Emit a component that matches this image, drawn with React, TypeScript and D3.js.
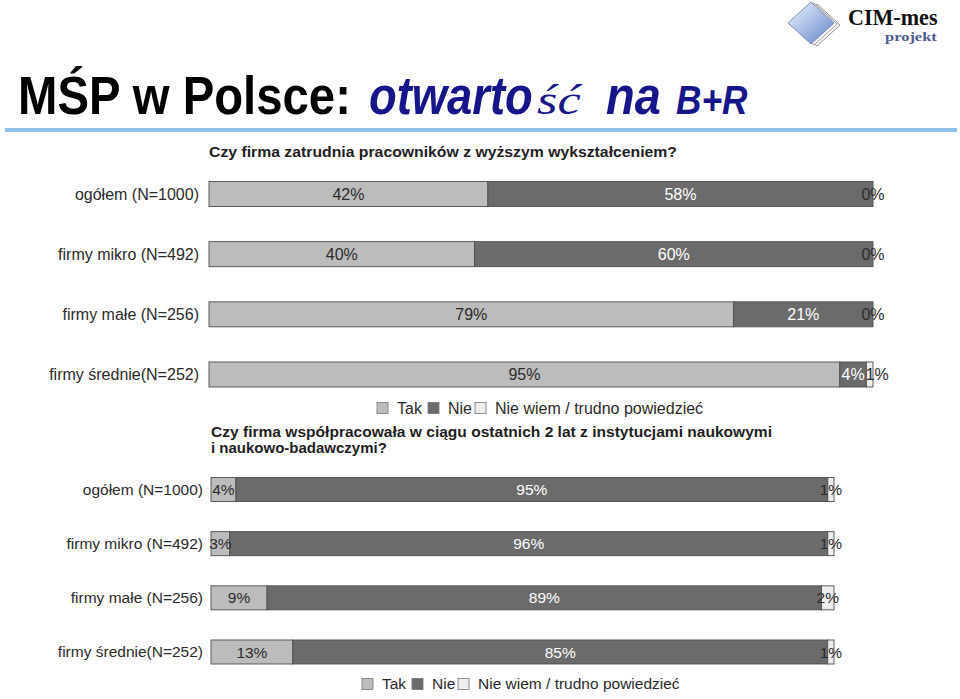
import React from "react";
import * as d3 from "d3";

const categories = [
  "ogółem (N=1000)",
  "firmy mikro (N=492)",
  "firmy małe (N=256)",
  "firmy średnie(N=252)",
];
const seriesNames = ["Tak", "Nie", "Nie wiem / trudno powiedzieć"];

const q1Title = "Czy firma zatrudnia pracowników z wyższym wykształceniem?";
const q1Tak = [42, 40, 79, 95];
const q1Nie = [58, 60, 21, 4];
const q1NieWiem = [0, 0, 0, 1];

const q2TitleLines = [
  "Czy firma współpracowała w ciągu ostatnich 2 lat z instytucjami naukowymi",
  "i naukowo-badawczymi?",
];
const q2Tak = [4, 3, 9, 13];
const q2Nie = [95, 96, 89, 85];
const q2NieWiem = [1, 1, 2, 1];

const FILLS = ["#bcbcbc", "#6b6b6b", "#ededed"];
const LABEL_FILLS = ["#2b2b2b", "#ffffff", "#2b2b2b"];
const SANS = "'Liberation Sans', Arial, Helvetica, sans-serif";
const SERIF = "'Liberation Serif', 'Times New Roman', serif";
const KEYS = ["k0", "k1", "k2"];
const NAVY = "#16168a";

type ChartProps = {
  tak: number[];
  nie: number[];
  nw: number[];
  x0: number;
  x1: number;
  yFirst: number;
  yLast: number;
  barH: number;
  labelRight: number;
  fontSize: number;
  legendX: number[];
  legendY: number;
};

function labelWidth(v: number, fs: number) {
  return fs * (0.556 * String(v).length + 0.889);
}

function StackedChart(p: ChartProps) {
  const rows = categories.map((c, i) => {
    const raw = [p.tak[i], p.nie[i], p.nw[i]];
    const sum = raw[0] + raw[1] + raw[2];
    return { cat: c, raw, k0: (raw[0] / sum) * 100, k1: (raw[1] / sum) * 100, k2: (raw[2] / sum) * 100 };
  });
  const series = d3.stack<any>().keys(KEYS)(rows as any);
  const x = d3.scaleLinear().domain([0, 100]).range([p.x0, p.x1]);
  const y = d3.scalePoint<string>().domain(categories).range([p.yFirst, p.yLast]);

  const labels: { x: number; y: number; t: string; si: number }[] = [];
  rows.forEach((r, ri) => {
    let prevRight = -Infinity;
    series.forEach((s, si) => {
      const d: any = s[ri];
      const w = labelWidth(r.raw[si], p.fontSize);
      let cx = (x(d[0]) + x(d[1])) / 2;
      if (cx - w / 2 < prevRight + 1) cx = prevRight + 1 + w / 2;
      prevRight = cx + w / 2;
      labels.push({ x: cx, y: y(r.cat)!, t: r.raw[si] + "%", si });
    });
  });

  return (
    <g>
      {categories.map((c) => (
        <text
          key={c}
          x={p.labelRight}
          y={y(c)!}
          dy="0.35em"
          textAnchor="end"
          fontFamily={SANS}
          fontSize={p.fontSize}
          fill="#2a2a2a"
        >
          {c}
        </text>
      ))}
      {series.map((s, si) => (
        <g key={si}>
          {s.map((d: any, di: number) => (
            <rect
              key={di}
              x={x(d[0])}
              y={y(d.data.cat)! - p.barH / 2}
              width={Math.max(0, x(d[1]) - x(d[0]))}
              height={p.barH}
              fill={FILLS[si]}
              stroke="#4e4e4e"
              strokeWidth={0.9}
            />
          ))}
        </g>
      ))}
      {labels.map((l, i) => (
        <text
          key={"l" + i}
          x={l.x}
          y={l.y}
          dy="0.36em"
          textAnchor="middle"
          fontFamily={SANS}
          fontSize={p.fontSize}
          fill={LABEL_FILLS[l.si]}
        >
          {l.t}
        </text>
      ))}
      {seriesNames.map((n, i) => (
        <g key={n}>
          <rect
            x={p.legendX[i]}
            y={p.legendY - 5.5}
            width={11}
            height={11}
            fill={FILLS[i]}
            stroke="#777"
            strokeWidth={0.8}
          />
          <text
            x={p.legendX[i] + 20}
            y={p.legendY}
            dy="0.35em"
            fontFamily={SANS}
            fontSize={p.fontSize}
            fill="#2a2a2a"
          >
            {n}
          </text>
        </g>
      ))}
    </g>
  );
}

export default function App() {
  return (
    <svg
      width={960}
      height={699}
      style={{ position: "absolute", left: 0, top: 0, background: "#fff" }}
    >
      <defs>
        <linearGradient id="dia" x1="0" y1="0" x2="1" y2="1">
          <stop offset="0" stopColor="#eef3fb" />
          <stop offset="0.5" stopColor="#a9bde6" />
          <stop offset="1" stopColor="#5d7fc4" />
        </linearGradient>
      </defs>
      <rect x={0} y={0} width={960} height={699} fill="#fff" />

      {/* logo */}
      <polygon points="817,4 840,25 817,46 794,25" fill="#f2f2f2" stroke="#9a9a9a" strokeWidth={1} />
      <polygon points="814,3 837,24 814,45 791,24" fill="#f7f7f7" stroke="#a0a0a0" strokeWidth={1} />
      <polygon points="811,2 834,23 811,44 788,23" fill="url(#dia)" stroke="#7d8fb5" strokeWidth={1} />
      <g transform="translate(848,25) scale(0.96,1)">
        <text x={0} y={0} fontFamily={SERIF} fontWeight="bold" fontSize={23} fill="#111">
          CIM-mes
        </text>
      </g>
      <g transform="translate(885,40.5) scale(1.22,1)">
        <text x={0} y={0} fontFamily={SERIF} fontWeight="bold" fontSize={13.5} fill="#4d5c8c">
          projekt
        </text>
      </g>

      {/* main title */}
      <g transform="translate(18,114) scale(0.876,1)">
        <text x={0} y={0} fontFamily={SANS} fontWeight="bold" fontSize={54} fill="#000">
          MŚP w Polsce:
        </text>
      </g>
      <g transform="translate(369,114) scale(0.84,1)">
        <text x={0} y={0} fontFamily={SANS} fontWeight="bold" fontStyle="italic" fontSize={54} fill={NAVY}>
          otwarto
        </text>
      </g>
      <g transform="translate(537,114) scale(1.25,1)">
        <text x={0} y={0} fontFamily={SERIF} fontStyle="italic" fontSize={42} fill={NAVY}>
          ść
        </text>
      </g>
      <g transform="translate(606,114) scale(0.87,1)">
        <text x={0} y={0} fontFamily={SANS} fontWeight="bold" fontStyle="italic" fontSize={54} fill={NAVY}>
          na
        </text>
      </g>
      <g transform="translate(676,114) scale(0.88,1)">
        <text x={0} y={0} fontFamily={SANS} fontWeight="bold" fontStyle="italic" fontSize={40} fill={NAVY}>
          B+R
        </text>
      </g>
      <rect x={5} y={128} width={952} height={4} fill="#92c3ee" />

      {/* chart 1 */}
      <text x={209} y={157} fontFamily={SANS} fontWeight="bold" fontSize={15} fill="#1e1e1e" textLength={468} lengthAdjust="spacingAndGlyphs">
        {q1Title}
      </text>
      <StackedChart
        tak={q1Tak}
        nie={q1Nie}
        nw={q1NieWiem}
        x0={209}
        x1={873}
        yFirst={194}
        yLast={374.5}
        barH={25}
        labelRight={199}
        fontSize={16}
        legendX={[377, 428, 475]}
        legendY={408}
      />

      {/* chart 2 */}
      <text x={211} y={437} fontFamily={SANS} fontWeight="bold" fontSize={15} fill="#1e1e1e" textLength={561} lengthAdjust="spacingAndGlyphs">
        {q2TitleLines[0]}
      </text>
      <text x={211} y={453} fontFamily={SANS} fontWeight="bold" fontSize={15} fill="#1e1e1e">
        {q2TitleLines[1]}
      </text>
      <StackedChart
        tak={q2Tak}
        nie={q2Nie}
        nw={q2NieWiem}
        x0={211}
        x1={834}
        yFirst={489.5}
        yLast={652}
        barH={24}
        labelRight={203}
        fontSize={15.5}
        legendX={[362, 412, 458]}
        legendY={684}
      />
    </svg>
  );
}
